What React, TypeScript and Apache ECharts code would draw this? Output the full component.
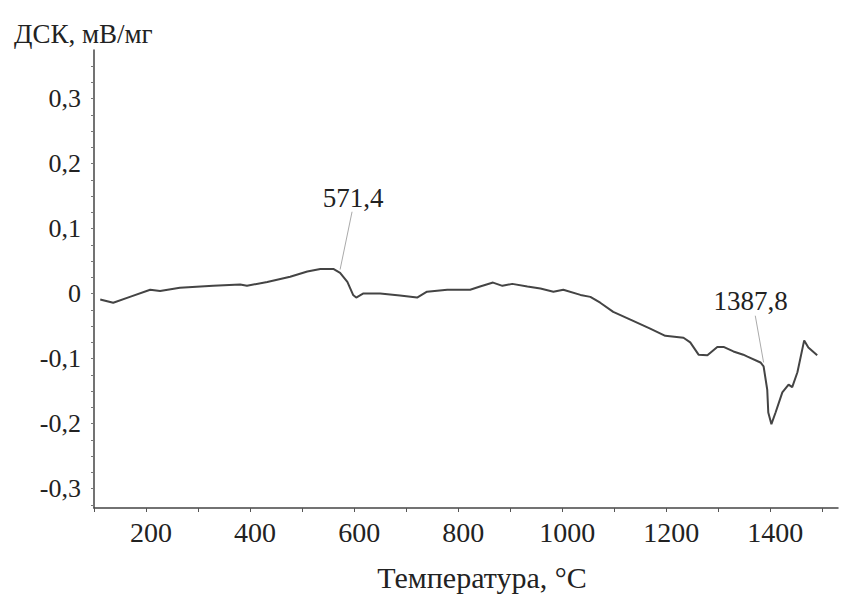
import React, { useEffect, useRef } from "react";
import * as echarts from "echarts";

// Temperature, °C
const temperature = [
  112, 137, 169, 208, 227, 265, 329, 381, 394, 433,
  477, 510, 535, 560, 573, 587, 598, 604, 617, 650,
  688, 721, 740, 779, 823, 842, 867, 885, 904, 933,
  958, 983, 1002, 1035, 1054, 1073, 1098, 1131, 1169, 1198,
  1233, 1246, 1262, 1279, 1298, 1310, 1329, 1348, 1356, 1381,
  1387, 1394, 1396, 1402, 1410, 1423, 1435, 1442, 1452, 1465,
  1473, 1490,
];
// DSC, mW/mg
const dsc = [
  -0.009, -0.014, -0.005, 0.006, 0.004, 0.009, 0.012, 0.014, 0.012, 0.018,
  0.026, 0.034, 0.038, 0.038, 0.032, 0.018, -0.002, -0.006, 0.0, 0.0,
  -0.003, -0.006, 0.003, 0.006, 0.006, 0.011, 0.017, 0.012, 0.015, 0.011,
  0.008, 0.003, 0.006, -0.002, -0.005, -0.014, -0.028, -0.04, -0.054, -0.065,
  -0.068, -0.075, -0.094, -0.095, -0.082, -0.082, -0.089, -0.094, -0.097, -0.106,
  -0.112, -0.148, -0.183, -0.201, -0.183, -0.152, -0.14, -0.144, -0.121, -0.072,
  -0.083, -0.095,
];

const xTickValues = [100, 200, 300, 400, 500, 600, 700, 800, 900, 1000, 1100, 1200, 1300, 1400, 1500];
const xLabelValues = [200, 400, 600, 800, 1000, 1200, 1400];
const yLabelValues = [-0.3, -0.2, -0.1, 0, 0.1, 0.2, 0.3];
const yMinorTicks = [
  -0.325, -0.3, -0.275, -0.25, -0.225, -0.2, -0.175, -0.15, -0.125, -0.1, -0.075, -0.05, -0.025,
  0, 0.025, 0.05, 0.075, 0.1, 0.125, 0.15, 0.175, 0.2, 0.225, 0.25, 0.275, 0.3, 0.325, 0.35,
];

// Peak annotations (temperature, value)
const peakNames = ["571,4", "1387,8"];
const peakTextAt = [
  [598, 0.147],
  [1362, -0.011],
];
const peakLeaderFrom = [
  [596, 0.126],
  [1371, -0.034],
];
const peakLeaderTo = [
  [573, 0.037],
  [1387, -0.106],
];

const yTitle = "ДСК, мВ/мг";
const xTitle = "Температура, °C";

const FONT = "serif";

export default function App() {
  const ref = useRef<HTMLDivElement>(null);

  useEffect(() => {
    if (!ref.current) return;
    const chart = echarts.init(ref.current, null, { renderer: "svg" });
    const seriesData = temperature.map((t, i) => [t, dsc[i]]);

    chart.setOption({
      animation: false,
      backgroundColor: "#ffffff",
      textStyle: { fontFamily: FONT },
      title: {
        text: yTitle,
        left: 9,
        top: 15,
        textStyle: { fontFamily: FONT, fontSize: 27, fontWeight: "normal", color: "#222" },
      },
      graphic: [
        {
          type: "text",
          x: 482,
          y: 577,
          style: {
            text: xTitle,
            align: "center",
            verticalAlign: "middle",
            font: "30px serif",
            fontFamily: FONT,
            fontSize: 30,
            fill: "#222",
          },
        },
      ],
      grid: { left: 94, right: 6, top: 50, bottom: 89 },
      xAxis: {
        type: "value",
        min: 100,
        max: 1530,
        splitLine: { show: false },
        axisLine: { show: true, onZero: false, lineStyle: { color: "#444", width: 1.5 } },
        axisTick: { show: true, length: 4, customValues: xTickValues, lineStyle: { color: "#555" } },
        axisLabel: {
          customValues: xLabelValues,
          margin: 10,
          padding: [0, 0, 0, 10],
          fontFamily: FONT,
          fontSize: 28,
          color: "#222",
          formatter: (v: number) => String(Math.round(v)),
        },
      },
      yAxis: {
        type: "value",
        min: -0.33,
        max: 0.375,
        splitLine: { show: false },
        axisLine: { show: true, onZero: false, lineStyle: { color: "#444", width: 1.5 } },
        axisTick: { show: true, length: 3, customValues: yMinorTicks, lineStyle: { color: "#777" } },
        axisLabel: {
          customValues: yLabelValues,
          margin: 13,
          fontFamily: FONT,
          fontSize: 26,
          color: "#222",
          formatter: (v: number) => (Math.abs(v) < 1e-9 ? "0" : v.toFixed(1).replace(".", ",")),
        },
      },
      series: [
        {
          type: "line",
          data: seriesData,
          showSymbol: false,
          symbol: "none",
          lineStyle: { color: "#444", width: 2 },
          markLine: {
            silent: true,
            symbol: "none",
            label: { show: false },
            lineStyle: { color: "#aaa", width: 1, type: "solid" },
            data: peakNames.map((_, i) => [
              { coord: peakLeaderFrom[i] },
              { coord: peakLeaderTo[i] },
            ]),
          },
          markPoint: {
            silent: true,
            symbol: "circle",
            symbolSize: 1,
            itemStyle: { color: "transparent" },
            label: {
              show: true,
              position: "inside",
              fontFamily: FONT,
              fontSize: 27,
              color: "#222",
              formatter: (p: any) => p.name,
            },
            data: peakNames.map((n, i) => ({ name: n, coord: peakTextAt[i] })),
          },
        },
      ],
    });

    return () => chart.dispose();
  }, []);

  return (
    <div
      ref={ref}
      style={{ position: "fixed", left: 0, top: 0, width: 844, height: 597, fontFamily: "serif" }}
    />
  );
}
